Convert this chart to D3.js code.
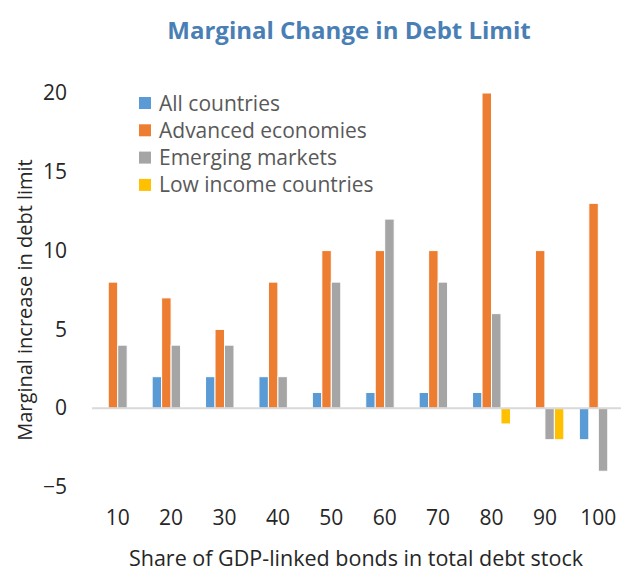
<!DOCTYPE html>
<html>
<head>
<meta charset="utf-8">
<script src="https://cdn.jsdelivr.net/npm/d3@7"></script>
<style>
  body { margin: 0; background: #fff; }
  svg { display: block; font-family: "Open Sans", sans-serif; }
</style>
</head>
<body>
<script>

// DATA
// --------------------------------------------------------------------------

var categories = ['10', '20', '30', '40', '50', '60', '70', '80', '90', '100'];

var seriesNames = [
  'All countries',
  'Advanced economies',
  'Emerging markets',
  'Low income countries'
];

var allCountries = [0, 2, 2, 2, 1, 1, 1, 1, 0, -2];
var advanced     = [8, 7, 5, 8, 10, 10, 10, 20, 10, 13];
var emerging     = [4, 4, 4, 2, 8, 12, 8, 6, -2, -4];
var lowIncome    = [0, 0, 0, 0, 0, 0, 0, -1, -2, 0];

var yTicks = [-5, 0, 5, 10, 15, 20];

var colors = ['#5b9bd5', '#ed7d31', '#a5a5a5', '#ffc000'];


// CHART
// --------------------------------------------------------------------------

var W = 621, H = 572;
var values = [allCountries, advanced, emerging, lowIncome];

var svg = d3.select('body').append('svg')
  .attr('width', W).attr('height', H);

// Scales.
var x = d3.scaleBand()
  .domain(categories)
  .range([91, 625])
  .paddingInner(0.29)
  .paddingOuter(0.145);

var xs = d3.scaleBand()
  .domain(d3.range(seriesNames.length))
  .range([0, x.bandwidth()]);

var y = d3.scaleLinear().domain([-5, 20]).range([487, 93]);

// Title.
svg.append('text')
  .attr('x', 349).attr('y', 39)
  .attr('text-anchor', 'middle')
  .attr('font-size', 24).attr('font-weight', 'bold')
  .attr('fill', '#4a7fb5')
  .text('Marginal Change in Debt Limit');

// Bars, one group per category.
var groups = svg.append('g').selectAll('g')
  .data(categories)
  .join('g')
  .attr('transform', function(d) { return 'translate(' + x(d) + ',0)'; });

groups.selectAll('rect')
  .data(function(d, i) {
    return values.map(function(s, k) { return { k: k, v: s[i] }; });
  })
  .join('rect')
  .filter(function(d) { return d.v !== 0; })
  .attr('x', function(d) { return xs(d.k); })
  .attr('width', xs.bandwidth())
  .attr('y', function(d) { return y(Math.max(0, d.v)); })
  .attr('height', function(d) { return Math.abs(y(d.v) - y(0)); })
  .attr('fill', function(d) { return colors[d.k]; })
  .attr('stroke', '#fff').attr('stroke-width', 1);

// Zero line.
svg.append('line')
  .attr('x1', 92).attr('x2', W)
  .attr('y1', y(0)).attr('y2', y(0))
  .attr('stroke', '#d9d9d9').attr('stroke-width', 2);

// Y axis labels.
var yAxis = svg.append('g')
  .attr('transform', 'translate(67,0)')
  .call(d3.axisLeft(y).tickValues(yTicks).tickSize(0).tickPadding(0)
    .tickFormat(d3.format('d')));
yAxis.select('.domain').remove();
yAxis.selectAll('text')
  .attr('font-family', '"Open Sans", sans-serif')
  .attr('font-size', 21).attr('fill', '#262626');

// X axis labels.
var xAxis = svg.append('g')
  .attr('transform', 'translate(0,510)')
  .call(d3.axisBottom(x).tickSize(0).tickPadding(0));
xAxis.select('.domain').remove();
xAxis.selectAll('text')
  .attr('font-family', '"Open Sans", sans-serif')
  .attr('font-size', 21).attr('fill', '#262626');

// Axis titles.
svg.append('text')
  .attr('x', 356).attr('y', 566)
  .attr('text-anchor', 'middle')
  .attr('font-size', 21.5).attr('fill', '#262626')
  .text('Share of GDP-linked bonds in total debt stock');

svg.append('text')
  .attr('transform', 'translate(32,300) rotate(-90)')
  .attr('text-anchor', 'middle')
  .attr('font-size', 20).attr('fill', '#262626')
  .text('Marginal increase in debt limit');

// Legend.
var legend = svg.append('g').selectAll('g')
  .data(seriesNames)
  .join('g')
  .attr('transform', function(d, i) {
    return 'translate(139,' + (97 + i * 27.3) + ')';
  });

legend.append('rect')
  .attr('width', 12).attr('height', 12)
  .attr('fill', function(d, i) { return colors[i]; });

legend.append('text')
  .attr('x', 20).attr('y', 13.5)
  .attr('font-size', 21).attr('fill', '#595959')
  .text(function(d) { return d; });

</script>
</body>
</html>
